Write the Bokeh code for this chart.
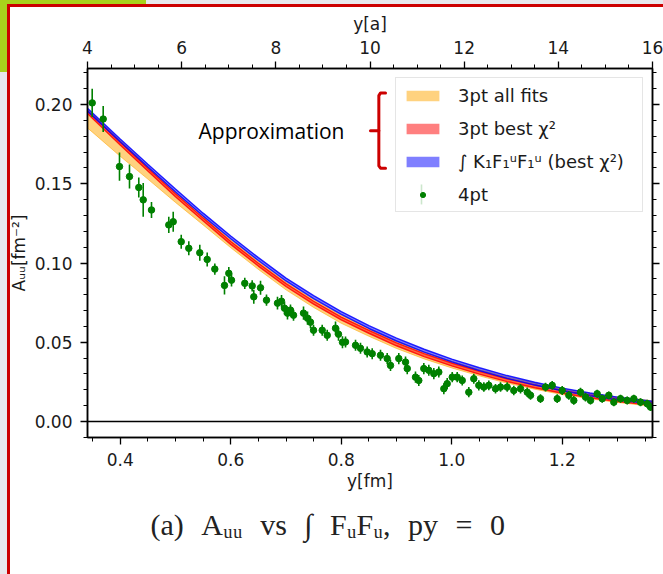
import math
from bokeh.plotting import figure
from bokeh.models import (ColumnDataSource, Range1d, LinearAxis, SingleIntervalTicker,
                          NumeralTickFormatter, CustomJSTickFormatter, Span, Legend,
                          LegendItem, Title)
from bokeh.embed import file_html
from bokeh.resources import INLINE
from bokeh.core.properties import value

# lattice spacing (fm) linking the two x axes
LATTICE_A = 0.0852
YA_MIN, YA_MAX = 4, 16

# ---- 4pt data: y [fm], A_uu [fm^-2], error ----
pt4_y = [0.3493, 0.3692, 0.3987, 0.4168, 0.4336, 0.4416, 0.4566, 0.4879, 0.4959, 0.5104,
         0.5241, 0.5440, 0.5574, 0.5712, 0.5887, 0.5965, 0.6014, 0.6254, 0.6388, 0.6417,
         0.6539, 0.6647, 0.6846, 0.6919, 0.6973, 0.7027, 0.7081, 0.7136, 0.7317, 0.7389,
         0.7443, 0.7498, 0.7655, 0.7746, 0.7896, 0.7950, 0.8022, 0.8077, 0.8258, 0.8348,
         0.8469, 0.8560, 0.8710, 0.8831, 0.8891, 0.9041, 0.9163, 0.9194, 0.9343, 0.9403,
         0.9494, 0.9584, 0.9675, 0.9765, 0.9856, 0.9917, 1.0008, 1.0098, 1.0189, 1.0308,
         1.0398, 1.0489, 1.0580, 1.0670, 1.0791, 1.0882, 1.1003, 1.1122, 1.1244, 1.1365,
         1.1425, 1.1605, 1.1696, 1.1817, 1.1908, 1.1998, 1.2118, 1.2208, 1.2329, 1.2420,
         1.2510, 1.2631, 1.2722, 1.2841, 1.2932, 1.3053, 1.3174, 1.3294, 1.3415, 1.3536,
         1.3596]
pt4_val = [0.2011, 0.1909, 0.1609, 0.1546, 0.1477, 0.1399, 0.1335, 0.1241, 0.1261, 0.1135,
           0.1093, 0.1065, 0.1023, 0.0962, 0.0859, 0.0935, 0.0892, 0.0872, 0.0856, 0.0787,
           0.0844, 0.0766, 0.0747, 0.0759, 0.0715, 0.0684, 0.0703, 0.0671, 0.0684, 0.0652,
           0.0627, 0.0576, 0.0576, 0.0544, 0.0589, 0.0551, 0.0500, 0.0502, 0.0481, 0.0462,
           0.0439, 0.0428, 0.0418, 0.0397, 0.0354, 0.0397, 0.0375, 0.0334, 0.0280, 0.0259,
           0.0334, 0.0323, 0.0302, 0.0312, 0.0207, 0.0239, 0.0280, 0.0280, 0.0259, 0.0185,
           0.0270, 0.0228, 0.0217, 0.0228, 0.0207, 0.0217, 0.0217, 0.0196, 0.0207, 0.0185,
           0.0165, 0.0144, 0.0217, 0.0228, 0.0144, 0.0196, 0.0165, 0.0133, 0.0185, 0.0154,
           0.0133, 0.0175, 0.0144, 0.0165, 0.0122, 0.0144, 0.0133, 0.0144, 0.0122, 0.0112,
           0.0091]
pt4_err = [0.0089, 0.0082, 0.0089, 0.0076, 0.0063, 0.0107, 0.0051, 0.0051, 0.0063, 0.0044,
           0.0044, 0.0051, 0.0044, 0.0035, 0.0057, 0.0040, 0.0040, 0.0035, 0.0035, 0.0044,
           0.0044, 0.0035, 0.0040, 0.0040, 0.0040, 0.0040, 0.0035, 0.0035, 0.0042, 0.0042,
           0.0038, 0.0035, 0.0035, 0.0035, 0.0042, 0.0042, 0.0038, 0.0035, 0.0035, 0.0035,
           0.0035, 0.0035, 0.0035, 0.0035, 0.0035, 0.0035, 0.0035, 0.0035, 0.0035, 0.0035,
           0.0035, 0.0035, 0.0035, 0.0035, 0.0035, 0.0035, 0.0032, 0.0032, 0.0032, 0.0032,
           0.0032, 0.0032, 0.0030, 0.0030, 0.0030, 0.0030, 0.0030, 0.0030, 0.0030, 0.0030,
           0.0028, 0.0028, 0.0028, 0.0028, 0.0028, 0.0028, 0.0028, 0.0028, 0.0028, 0.0028,
           0.0025, 0.0025, 0.0025, 0.0025, 0.0025, 0.0025, 0.0025, 0.0025, 0.0025, 0.0025,
           0.0025]

# ---- fitted bands, sampled along y [fm] ----
curve_y = [0.3408, 0.40, 0.45, 0.50, 0.55, 0.60, 0.65, 0.70, 0.75, 0.80, 0.85,
           0.90, 0.95, 1.00, 1.05, 1.10, 1.15, 1.20, 1.25, 1.30, 1.3632]
blue_c = [0.1968, 0.1774, 0.1615, 0.1458, 0.1306, 0.1162, 0.1025, 0.0896, 0.0785, 0.0685, 0.0596,
          0.0517, 0.0447, 0.0385, 0.0330, 0.0281, 0.0239, 0.0202, 0.0171, 0.0145, 0.0119]
red_c = [0.1953, 0.1754, 0.1590, 0.1428, 0.1276, 0.1127, 0.0990, 0.0861, 0.0750, 0.0650, 0.0566,
         0.0487, 0.0419, 0.0360, 0.0308, 0.0261, 0.0222, 0.0187, 0.0159, 0.0135, 0.0111]
orange_lo = [0.1853, 0.1674, 0.1530, 0.1383, 0.1241, 0.1097, 0.0960, 0.0831, 0.0720, 0.0620, 0.0538,
             0.0461, 0.0395, 0.0338, 0.0288, 0.0242, 0.0204, 0.0170, 0.0143, 0.0120, 0.0096]
orange_hi = [0.1973, 0.1774, 0.1610, 0.1448, 0.1296, 0.1147, 0.1010, 0.0881, 0.0770, 0.0670, 0.0586,
             0.0507, 0.0439, 0.0380, 0.0328, 0.0281, 0.0242, 0.0207, 0.0179, 0.0155, 0.0131]
band_half = 0.0009

legend_labels = ["3pt all fits", "3pt best χ²", "∫ K₁F₁ᵘF₁ᵘ (best χ²)", "4pt"]
caption = "(a)\u2002\u200aA\u1d64\u1d64\u2002\u200avs\u2002\u200a∫\u2002\u200aF\u1d64F\u1d64,\u2002\u200apy\u2002\u200a=\u2002\u200a0"

FONT = "DejaVu Sans"
TXT = "#1a1a1a"
Y_LO, Y_HI = -0.0101, 0.2228

p = figure(width=663, height=574,
           x_range=Range1d(YA_MIN * LATTICE_A, YA_MAX * LATTICE_A),
           y_range=Range1d(Y_LO, Y_HI),
           output_backend="svg", toolbar_location=None,
           min_border_left=87, min_border_right=11, min_border_top=68, min_border_bottom=137)
p.xgrid.visible = False
p.ygrid.visible = False
p.outline_line_color = "black"
p.outline_line_width = 1.5
p.background_fill_color = "white"
p.border_fill_alpha = 0
# page surround: red frame on top/left, grey strip and green patch at the upper left
p.styles = {"background": (
    "linear-gradient(#cc0000,#cc0000) 7px 4px / 656px 3px no-repeat,"
    "linear-gradient(#cc0000,#cc0000) 7px 4px / 3px 570px no-repeat,"
    "linear-gradient(#a8d21c,#a8d21c) 0 0 / 146px 4px no-repeat,"
    "linear-gradient(#a8d21c,#a8d21c) 0 0 / 7px 72px no-repeat,"
    "linear-gradient(#e8e8ec,#e8e8ec) 0 0 / 7px 100% no-repeat,"
    "linear-gradient(#e8e8ec,#e8e8ec) 0 0 / 100% 4px no-repeat,"
    "white")}

bottom_axis = p.below[0]
left_axis = p.left[0]

p.extra_x_ranges = {"a": Range1d(YA_MIN, YA_MAX)}
p.extra_y_ranges = {"r": Range1d(Y_LO, Y_HI)}

top_axis = LinearAxis(x_range_name="a", axis_label="y[a]",
                      ticker=SingleIntervalTicker(interval=2, num_minor_ticks=4),
                      formatter=NumeralTickFormatter(format="0"))
right_axis = LinearAxis(y_range_name="r",
                        ticker=SingleIntervalTicker(interval=0.05, num_minor_ticks=5),
                        formatter=CustomJSTickFormatter(code="return ''"))
p.add_layout(top_axis, "above")
p.add_layout(right_axis, "right")

bottom_axis.ticker = SingleIntervalTicker(interval=0.2, num_minor_ticks=4)
bottom_axis.formatter = NumeralTickFormatter(format="0.0")
bottom_axis.axis_label = "y[fm]"
left_axis.ticker = SingleIntervalTicker(interval=0.05, num_minor_ticks=5)
left_axis.formatter = NumeralTickFormatter(format="0.00")
left_axis.axis_label = "Aᵤᵤ[fm⁻²]"

for ax in [bottom_axis, left_axis, top_axis, right_axis]:
    ax.axis_line_width = 1.5
    ax.axis_line_color = "black"
    ax.major_tick_in = 0
    ax.major_tick_out = 7
    ax.minor_tick_in = 0
    ax.minor_tick_out = 4
    ax.major_tick_line_width = 1.3
    ax.minor_tick_line_width = 1.0
    ax.major_label_text_font = FONT
    ax.major_label_text_font_size = "17px"
    ax.major_label_text_color = TXT
    ax.major_label_standoff = 8
    ax.axis_label_text_font = FONT
    ax.axis_label_text_font_size = "17px"
    ax.axis_label_text_font_style = "normal"
    ax.axis_label_text_color = TXT
    ax.axis_label_standoff = 4
right_axis.major_label_standoff = 0
left_axis.axis_label_standoff = 3
bottom_axis.axis_label_standoff = 2

# zero line
p.add_layout(Span(location=0, dimension="width", line_color="black", line_width=1.5))

band_src = ColumnDataSource(dict(
    x=curve_y,
    o_lo=orange_lo, o_hi=orange_hi,
    r_lo=[v - band_half for v in red_c], r_hi=[v + band_half for v in red_c],
    b_lo=[v - band_half for v in blue_c], b_hi=[v + band_half for v in blue_c],
))

r_orange = p.varea(x="x", y1="o_lo", y2="o_hi", source=band_src, fill_color="#FFA500", fill_alpha=0.5)
for c in ["o_lo", "o_hi"]:
    p.line(x="x", y=c, source=band_src, line_color="#FFA500", line_alpha=0.55, line_width=1)
r_red = p.varea(x="x", y1="r_lo", y2="r_hi", source=band_src, fill_color="#FF0000", fill_alpha=0.5)
for c in ["r_lo", "r_hi"]:
    p.line(x="x", y=c, source=band_src, line_color="#FF0000", line_alpha=0.85, line_width=1.4)
r_blue = p.varea(x="x", y1="b_lo", y2="b_hi", source=band_src, fill_color="#0000FF", fill_alpha=0.5)
for c in ["b_lo", "b_hi"]:
    p.line(x="x", y=c, source=band_src, line_color="#0000FF", line_alpha=0.85, line_width=1.4)

pt_src = ColumnDataSource(dict(
    x=pt4_y, y=pt4_val,
    lo=[v - e for v, e in zip(pt4_val, pt4_err)],
    hi=[v + e for v, e in zip(pt4_val, pt4_err)],
))
p.segment(x0="x", y0="lo", x1="x", y1="hi", source=pt_src, line_color="#008000", line_width=1.6)
p.scatter(x="x", y="y", source=pt_src, size=6.5, fill_color="#008000", line_color="#008000")

# legend-only marker for the 4pt entry
nan_src = ColumnDataSource(dict(x=[math.nan], y=[math.nan]))
leg_dot = p.scatter(x="x", y="y", source=nan_src, size=6, fill_color="#008000", line_color="#008000")

legend = Legend(items=[
    LegendItem(label=legend_labels[0], renderers=[r_orange]),
    LegendItem(label=legend_labels[1], renderers=[r_red]),
    LegendItem(label=legend_labels[2], renderers=[r_blue]),
    LegendItem(label=legend_labels[3], renderers=[leg_dot]),
], location="top_right")
legend.margin = 9
legend.padding = 6
legend.spacing = 11
legend.glyph_width = 41
legend.glyph_height = 13
legend.label_standoff = 15
legend.label_height = 22
legend.label_width = 178
legend.label_text_font = FONT
legend.label_text_font_size = "18px"
legend.label_text_color = TXT
legend.border_line_color = "#cccccc"
legend.border_line_width = 1
legend.background_fill_alpha = 0.8
p.add_layout(legend)

# vertical error-bar symbol drawn over the legend's 4pt marker
LEG_BAR_X = 0.9452
LEG_BAR_Y0, LEG_BAR_Y1 = 0.1370, 0.1496
p.segment(x0=[LEG_BAR_X], y0=[LEG_BAR_Y0], x1=[LEG_BAR_X], y1=[LEG_BAR_Y1],
          line_color="#008000", line_width=1.6, level="overlay")

# annotation text with bracket
ANNOT_X, ANNOT_Y = 0.6738, 0.1835
p.text(x=[ANNOT_X], y=[ANNOT_Y], text=["Approximation"], text_font=value("Open Sans"),
       text_font_size="21px", text_align="center", text_baseline="middle", text_color="black")
bracket_xs = [[0.8801, 0.8711, 0.8680, 0.8680, 0.8711, 0.8801], [0.8529, 0.8680]]
bracket_ys = [[0.2074, 0.2074, 0.2057, 0.1614, 0.1599, 0.1599], [0.1835, 0.1835]]
p.multi_line(xs=bracket_xs, ys=bracket_ys, line_color="#CC0000", line_width=3,
             line_join="round", line_cap="round")

# caption below the plot
p.add_layout(Title(text=caption, align="left", offset=63, text_font="Liberation Serif",
                   text_font_size="30px", text_font_style="normal", text_color="#222222",
                   standoff=24), "below")

open("out.html", "w").write(file_html(p, INLINE))
